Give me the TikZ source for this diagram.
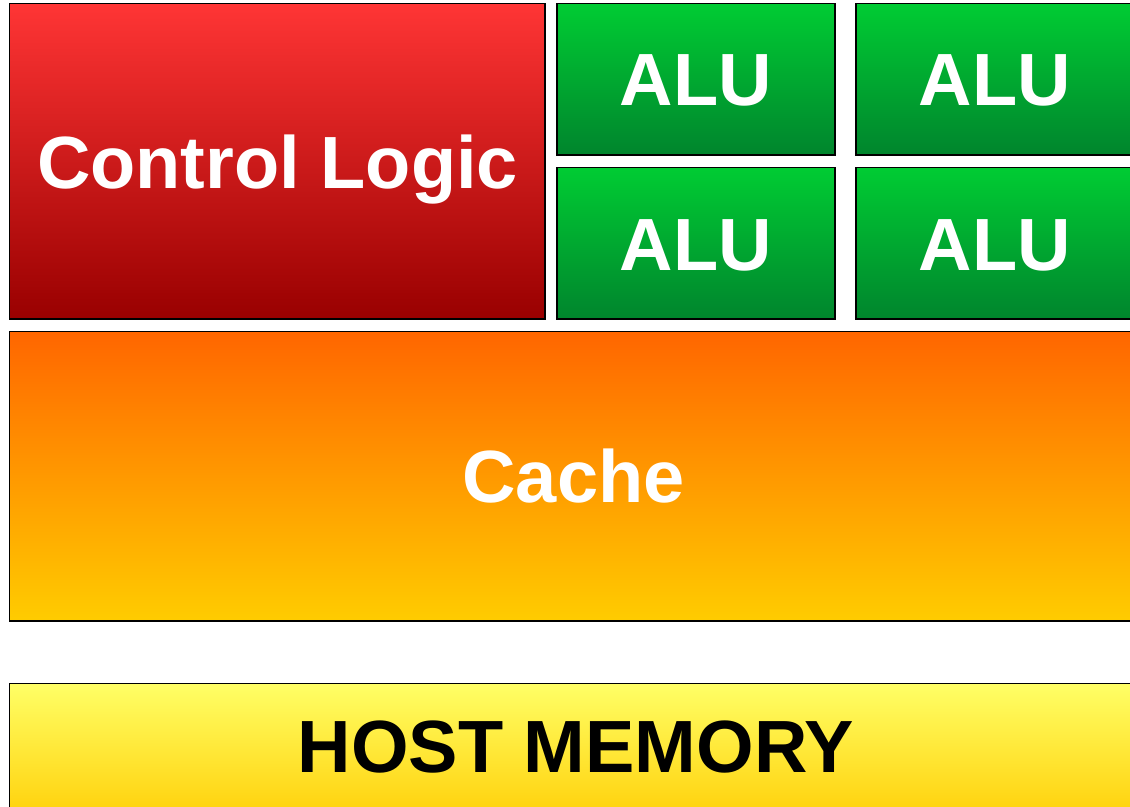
\documentclass[tikz,border=0pt]{standalone}
\usepackage{fontspec}
\setmainfont{Liberation Sans}
\begin{document}
\begin{tikzpicture}[x=0.75pt,y=-0.75pt,
  block/.style={draw=black,line width=0.9pt,shading=axis},
  ctrl/.style={block,top color=ctrltop,bottom color=ctrlbot},
  alu/.style={block,top color=alutop,bottom color=alubot},
  cache/.style={block,top color=cachetop,bottom color=cachebot},
  host/.style={block,top color=hosttop,bottom color=hostbot},
  label/.style={anchor=base,inner sep=0pt,font=\fontsize{55.5}{56}\selectfont\bfseries,text=white}]
\definecolor{ctrltop}{HTML}{FF3535}
\definecolor{ctrlbot}{HTML}{990000}
\definecolor{alutop}{HTML}{00CC33}
\definecolor{alubot}{HTML}{00852D}
\definecolor{cachetop}{HTML}{FF6600}
\definecolor{cachebot}{HTML}{FFCC00}
\definecolor{hosttop}{HTML}{FFFF66}
\definecolor{hostbot}{HTML}{FFCC00}
\useasboundingbox (0,0) rectangle (1130,806);
\clip (0,0) rectangle (1130,806);
% processing units
\path[ctrl] (9.5,3.5) rectangle (545,319);
\node[label] (ctrl) at (277.5,188) {Control Logic};
\path[alu] (557,3.5) rectangle (835,155);
\node[label] (alu1) at (696,106) {ALU};
\path[alu] (856,3.5) rectangle (1134,155);
\node[label] (alu2) at (995,106) {ALU};
\path[alu] (557,167.5) rectangle (835,319);
\node[label] (alu3) at (696,270) {ALU};
\path[alu] (856,167.5) rectangle (1134,319);
\node[label] (alu4) at (995,270) {ALU};
% cache
\path[cache] (9.5,331.5) rectangle (1137,621);
\node[label] (cache) at (573.5,502) {Cache};
% host memory
\path[host,bottom color=hostbot!85!hosttop] (9.5,683.5) rectangle (1140,809);
\node[label,text=black] (host) at (576,772) {HOST MEMORY};
\end{tikzpicture}
\end{document}
